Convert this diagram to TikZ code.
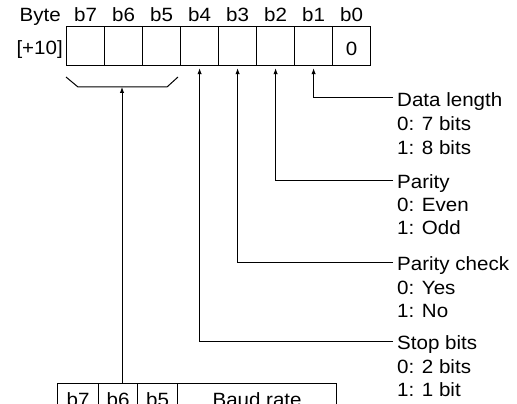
\documentclass[tikz,border=0pt]{standalone}
\usepackage{fontspec}
\setmainfont[FakeStretch=1.07]{Liberation Sans}
\usetikzlibrary{arrows.meta,calc}
\begin{document}
\begin{tikzpicture}[x=1pt,y=-1pt,
  txt/.style={font=\fontsize{19.2}{22}\selectfont, inner sep=0pt},
  base/.style={txt, anchor=base},
  lbl/.style={txt, anchor=base west},
  ttl/.style={txt, anchor=west, text height=17.4pt, text depth=0pt},
  cell/.style={draw, line width=1.2pt, minimum width=38pt, minimum height=39pt, inner sep=0pt, anchor=north west},
  bcell/.style={draw, line width=1.2pt, minimum height=42pt, inner sep=0pt, anchor=north west},
  line/.style={line width=1pt},
  conn/.style={line, -{Latex[length=6pt,width=4.5pt]}, shorten >=2pt, shorten <=4pt},
  bconn/.style={line, -{Latex[length=6pt,width=4.5pt]}}
]
\clip (0,0) rectangle (517,404);
% header labels
\node[txt, anchor=base east] (byte) at (61,21.7) {Byte};
\node[txt, anchor=base east] (addr) at (63,55) {[+10]};
% register cells
\foreach \i in {7,...,0}{
  \pgfmathsetmacro{\xx}{66+38*(7-\i)}
  \node[cell] (c\i) at (\xx,26) {};
  \node[base] (t\i) at ($(c\i.north)+(0,-4.3)$) {b\i};
}
\node[base] (zero) at ($(c0.center)+(0,9.5)$) {0};
% bracket
\draw[line] (66,77) -- (78,87) -- (167,87) -- (178,77);
\coordinate (brk) at (122,87);
% bottom table
\node[bcell, minimum width=41pt] (bb7) at (57,383) {};
\node[bcell, minimum width=39pt] (bb6) at (98,383) {};
\node[bcell, minimum width=40pt] (bb5) at (137,383) {};
\node[bcell, minimum width=159pt] (bbr) at (177,383) {};
\node[base] (lb7) at ($(bb7.north)+(0,23)$) {b7};
\node[base] (lb6) at ($(bb6.north)+(0,23)$) {b6};
\node[base] (lb5) at ($(bb5.north)+(0,23)$) {b5};
\node[base] (lbr) at ($(bbr.north)+(0,23)$) {Baud rate};
\draw[bconn] (brk |- bb6.north) -- (brk);
% right labels
\node[ttl] (dl) at (397,98) {Data length};
\node[lbl] (dl0) at (397,130.3) {0: 7 bits};
\node[lbl] (dl1) at (397,154) {1: 8 bits};
\node[ttl] (pa) at (397,180) {Parity};
\node[lbl] (pa0) at (397,211.7) {0: Even};
\node[lbl] (pa1) at (397,234.5) {1: Odd};
\node[ttl] (pc) at (397,262) {Parity check};
\node[lbl] (pc0) at (397,294) {0: Yes};
\node[lbl] (pc1) at (397,317.5) {1: No};
\node[ttl] (sb) at (397,341) {Stop bits};
\node[lbl] (sb0) at (397,373.3) {0: 2 bits};
\node[lbl] (sb1) at (397,396.7) {1: 1 bit};
\draw[conn] (dl.west) -| (c1.south);
\draw[conn] (pa.west) -| (c2.south);
\draw[conn] (pc.west) -| (c3.south);
\draw[conn] (sb.west) -| (c4.south);
\end{tikzpicture}
\end{document}
